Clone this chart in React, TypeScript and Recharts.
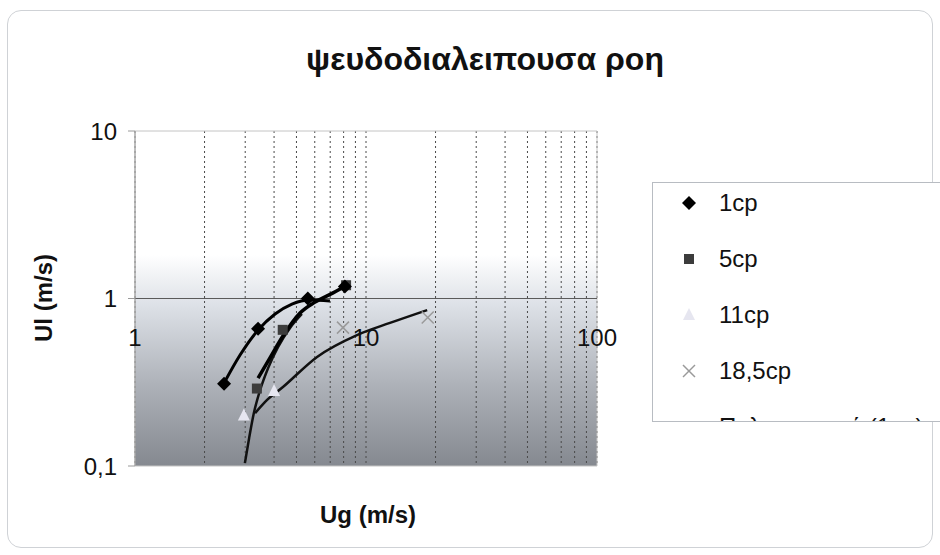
import {
  ComposedChart,
  XAxis,
  YAxis,
  CartesianGrid,
  Line,
  Scatter,
  ReferenceLine,
  ReferenceArea,
} from "recharts";

const FONT = '"Liberation Sans", Arial, sans-serif';

const xTicks = [1, 2, 3, 4, 5, 6, 7, 8, 9, 10, 20, 30, 40, 50, 60, 70, 80, 90, 100];
const xLabels = [1, 10, 100];
const yTicks = [0.1, 1, 10];

// measured points
const cp1 = [
  { x: 2.43, y: 0.31 },
  { x: 3.41, y: 0.66 },
  { x: 5.6, y: 1.0 },
  { x: 8.1, y: 1.18 },
];
const cp5 = [
  { x: 3.37, y: 0.29 },
  { x: 4.36, y: 0.65 },
  { x: 8.2, y: 1.2 },
];
const cp11 = [
  { x: 2.96, y: 0.2 },
  { x: 4.0, y: 0.28 },
  { x: 8.3, y: 1.22 },
];
const cp185 = [
  { x: 7.95, y: 0.67 },
  { x: 18.5, y: 0.77 },
];

// trendlines
const trend1 = [
  { x: 2.43, y: 0.313 },
  { x: 2.85, y: 0.46 },
  { x: 3.41, y: 0.648 },
  { x: 4.04, y: 0.808 },
  { x: 4.78, y: 0.927 },
  { x: 5.72, y: 0.98 },
  { x: 6.98, y: 0.967 },
];
const trend5 = [
  { x: 3.41, y: 0.335 },
  { x: 3.84, y: 0.442 },
  { x: 4.37, y: 0.597 },
  { x: 5.18, y: 0.819 },
  { x: 6.02, y: 0.953 },
  { x: 7.2, y: 1.08 },
  { x: 8.27, y: 1.2 },
];
const trend11 = [
  { x: 2.99, y: 0.104 },
  { x: 3.12, y: 0.147 },
  { x: 3.27, y: 0.207 },
  { x: 3.48, y: 0.284 },
  { x: 3.77, y: 0.385 },
  { x: 4.16, y: 0.513 },
  { x: 4.69, y: 0.667 },
  { x: 5.28, y: 0.808 },
];
const trend185 = [
  { x: 3.31, y: 0.207 },
  { x: 3.65, y: 0.241 },
  { x: 4.37, y: 0.296 },
  { x: 6.14, y: 0.448 },
  { x: 9.14, y: 0.605 },
  { x: 12.7, y: 0.715 },
  { x: 18.4, y: 0.853 },
];

const legendItems = ["1cp", "5cp", "11cp", "18,5cp", "Πολυωνυμική (1cp)"];

const Diamond = (p: any) => (
  <polygon
    points={`${p.cx},${p.cy - 7} ${p.cx + 7},${p.cy} ${p.cx},${p.cy + 7} ${p.cx - 7},${p.cy}`}
    fill="#000"
  />
);
const Square = (p: any) => (
  <rect x={p.cx - 5} y={p.cy - 5} width={10} height={10} fill="#3c3c3c" />
);
const Triangle = (p: any) => (
  <polygon
    points={`${p.cx},${p.cy - 7} ${p.cx + 6},${p.cy + 5} ${p.cx - 6},${p.cy + 5}`}
    fill="#e6e6f0"
  />
);
const Cross = (p: any) => (
  <g stroke="#9a9a9a" strokeWidth={1.5}>
    <line x1={p.cx - 6} y1={p.cy - 6} x2={p.cx + 6} y2={p.cy + 6} />
    <line x1={p.cx - 6} y1={p.cy + 6} x2={p.cx + 6} y2={p.cy - 6} />
  </g>
);

const XTick = (props: any) => {
  const v = props.payload.value;
  if (!xLabels.includes(v)) return <g />;
  return (
    <text x={props.x} y={346} textAnchor="middle" fontSize={24} fill="#111" fontFamily={FONT}>
      {v}
    </text>
  );
};

function legendMarker(i: number) {
  const c = { cx: 10, cy: 10 };
  if (i === 0) return <Diamond {...c} />;
  if (i === 1) return <Square {...c} />;
  if (i === 2) return <Triangle {...c} />;
  if (i === 3) return <Cross {...c} />;
  return <line x1={0} y1={10} x2={20} y2={10} stroke="#000" strokeWidth={3} />;
}

export default function App() {
  return (
    <div
      style={{
        position: "absolute",
        left: 0,
        top: 0,
        width: 940,
        height: 555,
        overflow: "hidden",
        background: "#fff",
        fontFamily: FONT,
      }}
    >
      <svg width={0} height={0} style={{ position: "absolute" }}>
        <defs>
          <linearGradient id="plotBg" x1="0" y1="0" x2="0" y2="1">
            <stop offset="0" stopColor="#ffffff" />
            <stop offset="0.37" stopColor="#ffffff" />
            <stop offset="0.52" stopColor="#dde1e7" />
            <stop offset="0.76" stopColor="#adb1b8" />
            <stop offset="1" stopColor="#858990" />
          </linearGradient>
        </defs>
      </svg>

      <div
        style={{
          position: "absolute",
          left: 7,
          top: 10,
          width: 924,
          height: 536,
          border: "1px solid #cfd2d6",
          borderRadius: 14,
        }}
      />

      <div style={{ position: "absolute", left: 0, top: 0 }}>
        <ComposedChart
          width={940}
          height={555}
          margin={{ top: 131, right: 343, bottom: 59, left: 75 }}
        >
          <CartesianGrid
            horizontal={false}
            stroke="#4a4a4a"
            strokeDasharray="2 3"
            fill="url(#plotBg)"
            fillOpacity={1}
          />
          <XAxis
            dataKey="x"
            type="number"
            scale="log"
            domain={[1, 100]}
            ticks={xTicks}
            interval={0}
            allowDataOverflow
            axisLine={false}
            tickLine={false}
            height={30}
            tick={XTick}
          />
          <YAxis
            dataKey="y"
            type="number"
            scale="log"
            domain={[0.1, 10]}
            ticks={yTicks}
            allowDataOverflow
            width={60}
            axisLine={{ stroke: "#9a9a9a" }}
            tickLine={{ stroke: "#9a9a9a" }}
            tickSize={7}
            tickMargin={11}
            tick={{ fontSize: 24, fill: "#111", fontFamily: FONT }}
            tickFormatter={(v: number) => String(v).replace(".", ",")}
          />
          <ReferenceArea
            x1={1}
            x2={100}
            y1={0.1}
            y2={10}
            fill="none"
            stroke="#c4c4c4"
            strokeOpacity={1}
            ifOverflow="visible"
          />
          <ReferenceLine y={1} stroke="#5a5a5a" strokeWidth={1} />
          <Line data={trend185} dataKey="y" type="monotone" stroke="#111" strokeWidth={2.5} dot={false} activeDot={false} isAnimationActive={false} />
          <Line data={trend11} dataKey="y" type="monotone" stroke="#111" strokeWidth={2.5} dot={false} activeDot={false} isAnimationActive={false} />
          <Line data={trend5} dataKey="y" type="monotone" stroke="#000" strokeWidth={3.5} dot={false} activeDot={false} isAnimationActive={false} />
          <Line data={trend1} dataKey="y" type="monotone" stroke="#000" strokeWidth={3} dot={false} activeDot={false} isAnimationActive={false} />
          <Scatter data={cp185} dataKey="y" shape={Cross} isAnimationActive={false} />
          <Scatter data={cp11} dataKey="y" shape={Triangle} isAnimationActive={false} />
          <Scatter data={cp5} dataKey="y" shape={Square} isAnimationActive={false} />
          <Scatter data={cp1} dataKey="y" shape={Diamond} isAnimationActive={false} />
        </ComposedChart>
      </div>

      <svg width={940} height={555} style={{ position: "absolute", left: 0, top: 0, pointerEvents: "none" }}>
        <text x={485} y={70} textAnchor="middle" fontSize={32} fontWeight="bold" fill="#111" fontFamily={FONT}>
          ψευδοδιαλειπουσα ροη
        </text>
        <text x={368} y={523} textAnchor="middle" fontSize={24} fontWeight="bold" fill="#111" fontFamily={FONT}>
          Ug (m/s)
        </text>
        <text
          x={0}
          y={0}
          transform="translate(52,298) rotate(-90)"
          textAnchor="middle"
          fontSize={24}
          fontWeight="bold"
          fill="#111"
          fontFamily={FONT}
        >
          Ul (m/s)
        </text>
      </svg>

      <div
        style={{
          position: "absolute",
          left: 652,
          top: 182,
          width: 320,
          height: 238,
          border: "1px solid #b8bcc2",
          background: "#fff",
          overflow: "hidden",
        }}
      >
        {legendItems.map((name, i) => (
          <div
            key={name}
            style={{
              position: "absolute",
              left: 0,
              top: 20 + i * 56 - 15,
              height: 30,
              display: "flex",
              alignItems: "center",
            }}
          >
            <svg width={20} height={20} style={{ marginLeft: 26 }}>
              {legendMarker(i)}
            </svg>
            <span style={{ marginLeft: 20, fontSize: 24, color: "#111", whiteSpace: "nowrap" }}>{name}</span>
          </div>
        ))}
      </div>
    </div>
  );
}
